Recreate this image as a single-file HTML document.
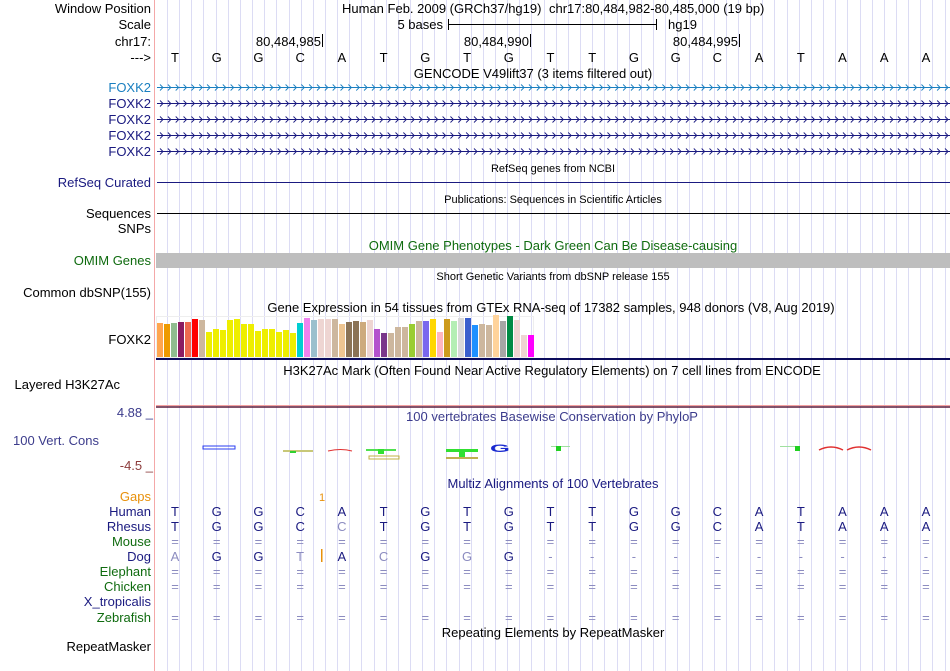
<!DOCTYPE html>
<html><head><meta charset="utf-8"><style>
html,body{margin:0;padding:0;background:#fff;width:950px;height:671px;overflow:hidden}
svg{display:block;font-family:"Liberation Sans",sans-serif}
.l{font-size:13px;text-anchor:end}
.t{font-size:13px;text-anchor:middle}
.s{font-size:11px;text-anchor:middle}
</style></head><body>
<svg id="c" width="950" height="671" viewBox="0 0 950 671">
<g id="grid"></g>
<line x1="154.5" y1="0" x2="154.5" y2="671" stroke="#f4a8a8"/>
<g>
<text class="l" x="151" y="13">Window Position</text>
<text class="l" x="151" y="29">Scale</text>
<text class="l" x="151" y="46">chr17:</text>
<text class="l" x="151" y="62">---&gt;</text>
<text class="l" x="151" y="92" fill="#1a7fc0">FOXK2</text>
<text class="l" x="151" y="108" fill="#1a1a80">FOXK2</text>
<text class="l" x="151" y="124" fill="#1a1a80">FOXK2</text>
<text class="l" x="151" y="140" fill="#1a1a80">FOXK2</text>
<text class="l" x="151" y="156" fill="#1a1a80">FOXK2</text>
<text class="l" x="151" y="187" fill="#1a1a80">RefSeq Curated</text>
<text class="l" x="151" y="218">Sequences</text>
<text class="l" x="151" y="233">SNPs</text>
<text class="l" x="151" y="265" fill="#0f6b0f">OMIM Genes</text>
<text class="l" x="151" y="297">Common dbSNP(155)</text>
<text class="l" x="151" y="344">FOXK2</text>
<text class="l" x="120" y="389">Layered H3K27Ac</text>
<text class="l" x="153" y="417" fill="#3c3c8c">4.88 _</text>
<text class="l" x="99" y="445" fill="#3c3c8c">100 Vert. Cons</text>
<text class="l" x="153" y="470" fill="#8c3c3c">-4.5 _</text>
<text class="l" x="151" y="501" fill="#e8900a">Gaps</text>
<text class="l" x="151" y="516" fill="#1a1a80">Human</text>
<text class="l" x="151" y="531" fill="#1a1a80">Rhesus</text>
<text class="l" x="151" y="546" fill="#0f6b0f">Mouse</text>
<text class="l" x="151" y="561" fill="#1a1a80">Dog</text>
<text class="l" x="151" y="576" fill="#0f6b0f">Elephant</text>
<text class="l" x="151" y="591" fill="#0f6b0f">Chicken</text>
<text class="l" x="151" y="606" fill="#1a1a80">X_tropicalis</text>
<text class="l" x="151" y="622" fill="#0f6b0f">Zebrafish</text>
<text class="l" x="151" y="651">RepeatMasker</text>
</g>
<g>
<text x="342" y="13" font-size="13">Human Feb. 2009 (GRCh37/hg19)</text>
<text x="549" y="13" font-size="13">chr17:80,484,982-80,485,000 (19 bp)</text>
<text x="443" y="29" font-size="13" text-anchor="end">5 bases</text>
<line x1="448.5" y1="19" x2="448.5" y2="30" stroke="#000"/><line x1="448" y1="24.5" x2="657" y2="24.5" stroke="#000"/><line x1="656.5" y1="19" x2="656.5" y2="30" stroke="#000"/>
<text x="668" y="29" font-size="13">hg19</text>
<text x="321" y="46" font-size="13" text-anchor="end">80,484,985</text><line x1="322.5" y1="34" x2="322.5" y2="47" stroke="#000"/>
<text x="529" y="46" font-size="13" text-anchor="end">80,484,990</text><line x1="530.5" y1="34" x2="530.5" y2="47" stroke="#000"/>
<text x="738" y="46" font-size="13" text-anchor="end">80,484,995</text><line x1="739.5" y1="34" x2="739.5" y2="47" stroke="#000"/>
</g>
<g id="bases"></g>
<text class="t" x="533" y="78">GENCODE V49lift37 (3 items filtered out)</text>
<g id="genes"></g>
<text class="s" x="553" y="172">RefSeq genes from NCBI</text>
<line x1="157" y1="182.5" x2="950" y2="182.5" stroke="#1a1a80"/>
<text class="s" x="553" y="203">Publications: Sequences in Scientific Articles</text>
<line x1="157" y1="213.5" x2="950" y2="213.5" stroke="#000"/>
<text class="t" x="553" y="250" fill="#0f6b0f">OMIM Gene Phenotypes - Dark Green Can Be Disease-causing</text>
<rect x="156" y="253" width="794" height="15" fill="#bebebe"/>
<text class="s" x="553" y="280">Short Genetic Variants from dbSNP release 155</text>
<text class="t" x="551" y="312">Gene Expression in 54 tissues from GTEx RNA-seq of 17382 samples, 948 donors (V8, Aug 2019)</text>
<g id="gtex"></g>
<rect x="156" y="358" width="794" height="2" fill="#0c0c5c"/>
<text class="t" x="552" y="375">H3K27Ac Mark (Often Found Near Active Regulatory Elements) on 7 cell lines from ENCODE</text>
<line x1="156" y1="405.5" x2="950" y2="405.5" stroke="#f4a0a0"/><line x1="156" y1="407" x2="950" y2="407" stroke="#5a1a3a" stroke-width="1.5"/>
<text class="t" x="552" y="421" fill="#3c3c8c">100 vertebrates Basewise Conservation by PhyloP</text>
<g font-weight="bold">
<rect x="203" y="446" width="32" height="3" fill="none" stroke="#2a3cf0"/>
<rect x="283" y="450" width="30" height="2" fill="#c8c878"/><rect x="290" y="451" width="6" height="2" fill="#30d030"/>
<path d="M328 451 Q341 448 352 451" stroke="#e03030" fill="none"/>
<rect x="366" y="449" width="30" height="2" fill="#50e050"/><rect x="378" y="449" width="6" height="5" fill="#30e030"/><rect x="369" y="456" width="30" height="3" fill="none" stroke="#c0b040"/>
<rect x="446" y="449" width="32" height="3" fill="#30e030"/><rect x="459" y="449" width="6" height="8" fill="#30e030"/><rect x="446" y="457" width="32" height="2" fill="#c0b050"/>
<text x="490" y="452" font-size="16" fill="#1a2ad0" transform="translate(490,452) scale(1.6,0.7) translate(-490,-452)">G</text>
<rect x="551" y="446" width="19" height="1" fill="#a0e0a0"/><rect x="556" y="446" width="5" height="5" fill="#20d020"/>
<rect x="780" y="446" width="19" height="1" fill="#a0e0a0"/><rect x="795" y="446" width="5" height="5" fill="#20d020"/>
<path d="M819 450 Q831 444 843 450" stroke="#e03030" fill="none" stroke-width="1.5"/>
<path d="M847 450 Q859 444 871 450" stroke="#e03030" fill="none" stroke-width="1.5"/>
</g>
<text class="t" x="553" y="488" fill="#1a1a80">Multiz Alignments of 100 Vertebrates</text>
<text x="322" y="501" font-size="11" fill="#e8900a" text-anchor="middle">1</text>
<rect x="321" y="549" width="1.5" height="13" fill="#e8900a"/>
<g id="aln"></g>
<text class="t" x="553" y="637">Repeating Elements by RepeatMasker</text>
</svg>
<script>
const NS='http://www.w3.org/2000/svg';
function mk(tag,attrs,parent){const e=document.createElementNS(NS,tag);for(const k in attrs)e.setAttribute(k,attrs[k]);parent.appendChild(e);return e;}
const grid=document.getElementById('grid');
for(let x=167;x<950;x+=12.15){const l=mk('line',{x1:Math.round(x)+0.5,y1:0,x2:Math.round(x)+0.5,y2:671,stroke:'#dcdcf4'},grid);

}
const baseX=i=>175+i*41.72;
const human='TGGCATGTGTTGGCATAAA';
const bg=document.getElementById('bases');
for(let i=0;i<human.length;i++){const t=mk('text',{x:baseX(i),y:62,'font-size':13,'text-anchor':'middle'},bg);t.textContent=human[i];

}
const geneYs=[87,103,119,135,151];
const geneColors=['#1a7fc0','#1a1a80','#1a1a80','#1a1a80','#1a1a80'];
const gg=document.getElementById('genes');
geneYs.forEach((y,j)=>{const g=mk('g',{},gg);


mk('line',{x1:157,y1:y+0.5,x2:950,y2:y+0.5,stroke:geneColors[j]},g);
let d='';for(let x=160;x<948;x+=7.85){d+=`M${x} ${y-2.5}L${x+3} ${y+0.5}L${x} ${y+3.5}`;}
mk('path',{d:d,stroke:geneColors[j],fill:'none','stroke-width':0.9},g);});
const gtexValues=[34,33,34,35,35,38,37,25,28,27,37,38,33,33,26,28,28,25,27,24,34,39,37,38,38,38,33,35,36,35,37,28,24,24,30,30,33,36,36,38,25,38,36,39,39,32,33,32,42,36,41,37,22,22];
const gtexColors=['#FFA54F','#EE9A00','#8FBC8F','#8B1C62','#EE6A50','#FF0000','#CDB79E','#EEEE00','#EEEE00','#EEEE00','#EEEE00','#EEEE00','#EEEE00','#EEEE00','#EEEE00','#EEEE00','#EEEE00','#EEEE00','#EEEE00','#EEEE00','#00CED1','#EE82EE','#9AC0CD','#EED5D2','#EED5D2','#CDB79E','#EEC591','#8B7355','#8B7355','#CDAA7D','#EED5D2','#B452CD','#7A378B','#CDB79E','#CDB79E','#CDB79E','#9ACD32','#CDB79E','#7A67EE','#FFD700','#FFB6C1','#CD9B1D','#B4EEB4','#D9D9D9','#3A5FCD','#1E90FF','#CDB79E','#CDB79E','#FFD39B','#A6A6A6','#008B45','#EED5D2','#EED5D2','#FF00FF'];
const gtexBase=357, gtexMax=44;
const gy=v=>gtexBase-v/gtexMax*44;
const gtg=document.getElementById('gtex');
mk('rect',{x:156.5,y:316.5,width:377,height:41,fill:'none',stroke:'#eeeeee'},gtg);
gtexValues.forEach((v,i)=>{const r=mk('rect',{x:157+i*7,y:gy(v),width:6,height:gtexBase-gy(v),fill:gtexColors[i]},gtg);

});
const species=['Human','Rhesus','Mouse','Dog','Elephant','Chicken','X_tropicalis','Zebrafish'];
const alnSeqs=['TGGCATGTGTTGGCATAAA','TGGCCTGTGTTGGCATAAA','===================','AGGTACGGG----------','===================','===================','                   ','==================='];
const alnFaint=['','4','','0,3,5,7',''];
const alnYs=[516,531,546,561,576,591,606,622];
const ag=document.getElementById('aln');
alnSeqs.forEach((s,r)=>{const faint=(alnFaint[r]||'').split(',').filter(x=>x!=='').map(Number);
for(let i=0;i<s.length;i++){if(s[i]===' ')continue;const t=mk('text',{x:baseX(i),y:alnYs[r],'font-size':13,'text-anchor':'middle',fill:(s[i]==='='||s[i]==='-'||faint.includes(i))?'#8c8cc0':'#1a1a80'},ag);t.textContent=s[i];

}});
</script>
</body></html>
